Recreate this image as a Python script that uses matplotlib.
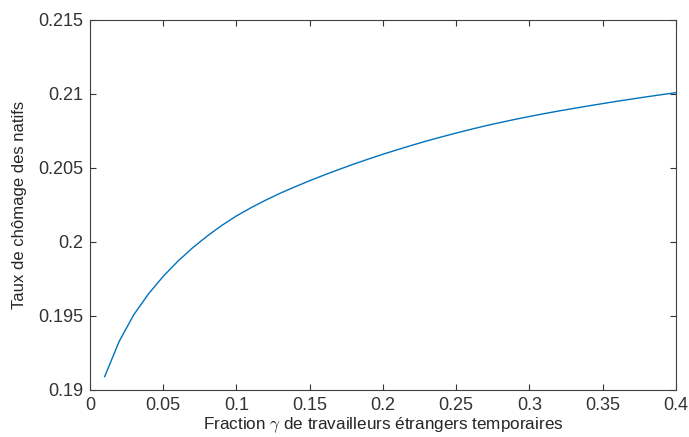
import numpy as np
import matplotlib.pyplot as plt

# fraction gamma of temporary foreign workers
gamma = [0.01, 0.02, 0.03, 0.04, 0.05, 0.06, 0.07, 0.08, 0.09, 0.10,
         0.11, 0.12, 0.13, 0.14, 0.15, 0.16, 0.17, 0.18, 0.19, 0.20,
         0.21, 0.22, 0.23, 0.24, 0.25, 0.26, 0.27, 0.28, 0.29, 0.30,
         0.31, 0.32, 0.33, 0.34, 0.35, 0.36, 0.37, 0.38, 0.39, 0.40]
# native unemployment rate
taux = [0.19090, 0.19330, 0.19510, 0.19650, 0.19768, 0.19870, 0.19960, 0.20040, 0.20112, 0.20176,
        0.20232, 0.20283, 0.20330, 0.20373, 0.20414, 0.20453, 0.20490, 0.20526, 0.20560, 0.20593,
        0.20624, 0.20654, 0.20683, 0.20710, 0.20736, 0.20761, 0.20785, 0.20807, 0.20828, 0.20848,
        0.20867, 0.20885, 0.20902, 0.20919, 0.20935, 0.20951, 0.20966, 0.20981, 0.20995, 0.21009]

xticks = [0, 0.05, 0.1, 0.15, 0.2, 0.25, 0.3, 0.35, 0.4]
xlabels = ['0', '0.05', '0.1', '0.15', '0.2', '0.25', '0.3', '0.35', '0.4']
yticks = [0.19, 0.195, 0.2, 0.205, 0.21, 0.215]
ylabels = ['0.19', '0.195', '0.2', '0.205', '0.21', '0.215']

plt.rcParams['font.family'] = ['Liberation Sans', 'DejaVu Sans']
plt.rcParams['mathtext.fontset'] = 'cm'

fig = plt.figure(figsize=(6.89, 4.37), dpi=100)
ax = fig.add_axes([0.1306, 0.1076, 0.8505, 0.8467])

ax.plot(gamma, taux, color='#0072BD', linewidth=1.0)

ax.set_xlim(0, 0.4)
ax.set_ylim(0.19, 0.215)
ax.set_xticks(xticks)
ax.set_xticklabels(xlabels)
ax.set_yticks(yticks)
ax.set_yticklabels(ylabels)

ax.tick_params(direction='in', top=True, right=True, length=4, width=0.8,
               colors='#333333', labelsize=13, pad=5)
for s in ax.spines.values():
    s.set_color('#404040')
    s.set_linewidth(0.8)

ax.set_xlabel(r'Fraction $\gamma$ de travailleurs étrangers temporaires',
              fontsize=12.3, color='#262626', labelpad=1)
ax.set_ylabel('Taux de chômage des natifs', fontsize=12, color='#262626', labelpad=8)

fig.savefig('out.png', dpi=100)
